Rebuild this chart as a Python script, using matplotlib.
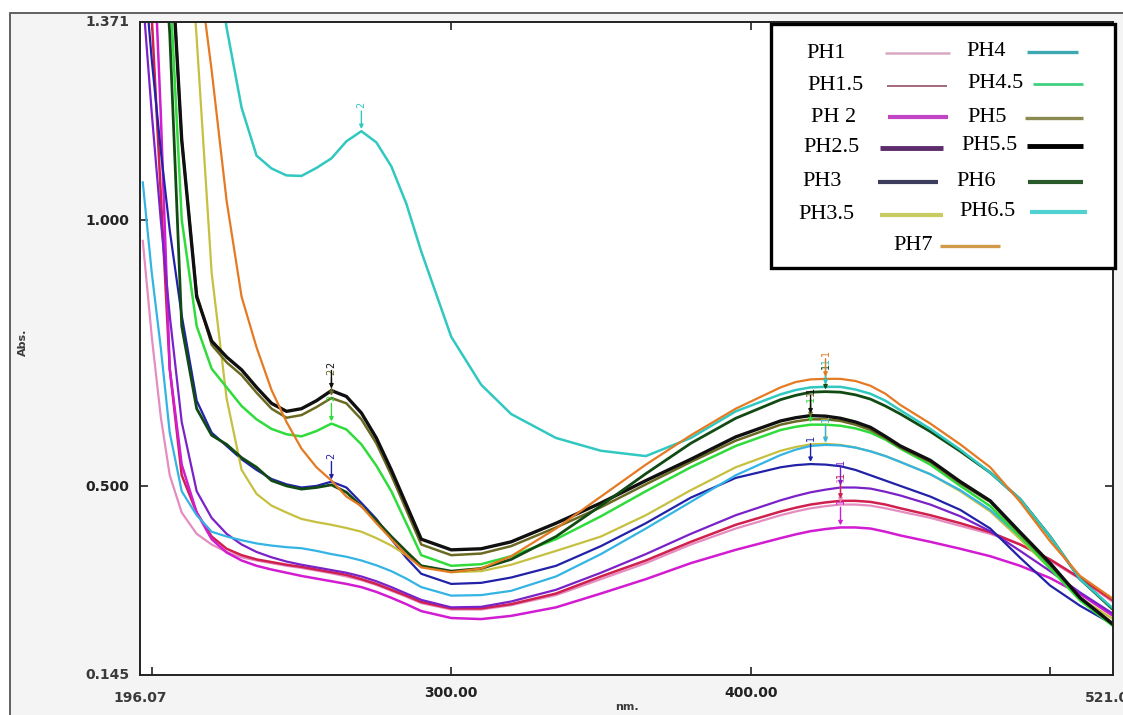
import numpy as np
import matplotlib.pyplot as plt
from matplotlib.lines import Line2D
from matplotlib.patches import Rectangle

W, H = 1123, 715

# ---------------- spectra (Abs. vs nm) ----------------
wavelength = [197, 200, 203, 206, 210, 215, 220, 225, 230, 235,
              240, 245, 250, 255, 260, 265, 270, 275, 280, 285,
              290, 300, 310, 320, 335, 350, 365, 380, 395, 410,
              415, 420, 425, 430, 435, 440, 445, 450, 460, 470,
              480, 490, 500, 510, 521]

ph1 = [0.96, 0.78, 0.63, 0.52, 0.45, 0.41, 0.39, 0.376, 0.366, 0.36,
       0.355, 0.35, 0.346, 0.341, 0.336, 0.33, 0.323, 0.314, 0.303, 0.292,
       0.28, 0.268, 0.268, 0.276, 0.295, 0.325, 0.355, 0.39, 0.42, 0.445,
       0.452, 0.458, 0.462, 0.465, 0.465, 0.463, 0.458, 0.452, 0.44, 0.425,
       0.41, 0.39, 0.36, 0.325, 0.282]
ph1_5 = [1.9, 1.38, 1.05, 0.72, 0.52, 0.45, 0.405, 0.382, 0.37, 0.362,
         0.357, 0.352, 0.348, 0.343, 0.338, 0.333, 0.325, 0.316, 0.305, 0.294,
         0.282, 0.27, 0.27, 0.278, 0.298, 0.33, 0.36, 0.395, 0.427, 0.452,
         0.459, 0.465, 0.469, 0.472, 0.472, 0.47, 0.465, 0.458, 0.445, 0.43,
         0.413, 0.39, 0.362, 0.327, 0.285]
ph2 = [2.0, 1.6, 1.2, 0.72, 0.54, 0.45, 0.40, 0.375, 0.36, 0.35,
       0.343, 0.337, 0.331, 0.326, 0.321, 0.316, 0.31, 0.301, 0.29, 0.278,
       0.265, 0.252, 0.25, 0.256, 0.272, 0.298, 0.325, 0.355, 0.38, 0.402,
       0.409, 0.415, 0.419, 0.422, 0.422, 0.42, 0.414, 0.407, 0.395, 0.382,
       0.368, 0.35, 0.327, 0.297, 0.256]
ph2_5 = [1.42, 1.2, 1.0, 0.82, 0.62, 0.49, 0.44, 0.41, 0.39, 0.376,
         0.366, 0.358, 0.352, 0.347, 0.342, 0.337, 0.33, 0.321, 0.31, 0.298,
         0.286, 0.272, 0.273, 0.283, 0.305, 0.337, 0.372, 0.41, 0.445, 0.473,
         0.481, 0.488, 0.493, 0.497, 0.497, 0.495, 0.489, 0.482, 0.465, 0.443,
         0.415, 0.378, 0.34, 0.30, 0.26]
ph3 = [1.5, 1.3, 1.13, 0.98, 0.82, 0.66, 0.60, 0.575, 0.55, 0.53,
       0.513, 0.503, 0.497, 0.50, 0.508, 0.497, 0.468, 0.438, 0.40, 0.365,
       0.335, 0.316, 0.318, 0.328, 0.35, 0.387, 0.43, 0.478, 0.515, 0.535,
       0.539, 0.541, 0.54, 0.537, 0.53, 0.52, 0.51, 0.50, 0.48, 0.455,
       0.42, 0.365, 0.313, 0.275, 0.24]
ph3_5 = [3.5, 3.0, 2.6, 2.2, 1.75, 1.34, 0.90, 0.664, 0.53, 0.485,
         0.463, 0.45, 0.438, 0.432, 0.427, 0.421, 0.414, 0.402, 0.388, 0.37,
         0.35, 0.338, 0.34, 0.352, 0.378, 0.405, 0.445, 0.492, 0.535, 0.566,
         0.573, 0.578, 0.579, 0.577, 0.572, 0.565, 0.556, 0.545, 0.522, 0.49,
         0.452, 0.40, 0.345, 0.29, 0.25]
ph4 = [1.07, 0.90, 0.76, 0.60, 0.49, 0.445, 0.414, 0.405, 0.398, 0.392,
       0.388, 0.385, 0.383, 0.378, 0.372, 0.367, 0.36, 0.351, 0.34, 0.326,
       0.31, 0.294, 0.295, 0.303, 0.33, 0.372, 0.42, 0.47, 0.52, 0.558,
       0.568, 0.575, 0.577, 0.576, 0.572, 0.565, 0.556, 0.545, 0.522, 0.492,
       0.455, 0.405, 0.35, 0.29, 0.24]
ph4_5 = [2.3, 2.0, 1.75, 1.45, 1.0, 0.80, 0.72, 0.685, 0.65, 0.625,
         0.607, 0.597, 0.593, 0.603, 0.617, 0.606, 0.578, 0.538, 0.49, 0.43,
         0.37, 0.35, 0.353, 0.368, 0.40, 0.443, 0.49, 0.535, 0.575, 0.605,
         0.611, 0.615, 0.615, 0.613, 0.608, 0.60, 0.587, 0.57, 0.54, 0.50,
         0.462, 0.405, 0.345, 0.285, 0.237]
ph5 = [2.6, 2.2, 1.9, 1.55, 1.15, 0.86, 0.765, 0.732, 0.708, 0.675,
       0.645, 0.628, 0.633, 0.648, 0.665, 0.655, 0.625, 0.58, 0.52, 0.455,
       0.39, 0.37, 0.373, 0.387, 0.422, 0.46, 0.503, 0.545, 0.585, 0.615,
       0.621, 0.625, 0.625, 0.622, 0.615, 0.605, 0.59, 0.572, 0.545, 0.505,
       0.47, 0.41, 0.352, 0.29, 0.242]
ph5_5 = [2.6, 2.2, 1.9, 1.55, 1.15, 0.855, 0.772, 0.742, 0.718, 0.685,
         0.655, 0.64, 0.645, 0.66, 0.679, 0.668, 0.637, 0.59, 0.53, 0.465,
         0.40, 0.38, 0.382, 0.395, 0.43, 0.468, 0.51, 0.55, 0.592, 0.622,
         0.628, 0.632, 0.631, 0.627, 0.62, 0.61, 0.593, 0.575, 0.548, 0.508,
         0.472, 0.413, 0.355, 0.29, 0.24]
ph6 = [2.2, 1.9, 1.6, 1.35, 0.80, 0.645, 0.595, 0.578, 0.553, 0.535,
       0.51, 0.50, 0.494, 0.497, 0.502, 0.488, 0.462, 0.435, 0.405, 0.377,
       0.35, 0.34, 0.345, 0.362, 0.405, 0.463, 0.523, 0.58, 0.627, 0.662,
       0.67, 0.676, 0.677, 0.676, 0.671, 0.663, 0.65, 0.635, 0.602, 0.565,
       0.525, 0.475, 0.405, 0.325, 0.268]
ph6_5 = [4.0, 3.6, 3.2, 2.8, 2.3, 1.85, 1.55, 1.36, 1.21, 1.12,
         1.096, 1.083, 1.082, 1.097, 1.115, 1.147, 1.166, 1.145, 1.10, 1.03,
         0.94, 0.78, 0.69, 0.635, 0.59, 0.566, 0.556, 0.59, 0.64, 0.672,
         0.68, 0.685, 0.686, 0.686, 0.681, 0.673, 0.66, 0.642, 0.607, 0.568,
         0.525, 0.475, 0.405, 0.325, 0.27]
ph7 = [3.0, 2.7, 2.4, 2.1, 1.8, 1.5, 1.28, 1.035, 0.855, 0.76,
       0.68, 0.62, 0.57, 0.535, 0.51, 0.48, 0.462, 0.43, 0.40, 0.37,
       0.347, 0.338, 0.345, 0.368, 0.42, 0.48, 0.54, 0.595, 0.645, 0.685,
       0.695, 0.70, 0.701, 0.701, 0.697, 0.688, 0.673, 0.652, 0.617, 0.578,
       0.535, 0.47, 0.396, 0.331, 0.288]

labels = ['PH1', 'PH1.5', 'PH 2', 'PH2.5', 'PH3', 'PH3.5', 'PH4',
          'PH4.5', 'PH5', 'PH5.5', 'PH6', 'PH6.5', 'PH7']
spectra = [ph1, ph1_5, ph2, ph2_5, ph3, ph3_5, ph4, ph4_5, ph5, ph5_5, ph6, ph6_5, ph7]

# colours of the traces and of the legend swatches
trace_colors = ['#e58cc0', '#d0204e', '#d21cd2', '#7a22c8', '#2222a8', '#c6c040', '#34b4e4',
                '#30dc3c', '#6a6a22', '#101010', '#124a14', '#30c8c0', '#e57a22']
trace_widths = [1.6, 1.8, 1.8, 1.6, 1.6, 1.6, 1.6, 1.8, 1.8, 2.4, 2.0, 1.8, 1.6]
key_colors = ['#d9a8c2', '#9c5c72', '#c044c4', '#5c2c6c', '#3c3c5c', '#c8cc60', '#3ea8b0',
              '#40d080', '#8a8a52', '#000000', '#2a5a2c', '#50d2d2', '#d09a48']
key_widths = [1.8, 1.3, 3.0, 3.5, 3.0, 3.0, 2.4, 2.0, 2.4, 3.5, 3.0, 3.0, 2.4]

# peak pick windows: (lo, hi, tag)
peak_windows = [(400, 450, '1'), (255, 280, '2')]
second_peak = {'PH3', 'PH4.5', 'PH5', 'PH5.5', 'PH6.5'}

# ---------------- figure ----------------
fig = plt.figure(figsize=(W / 100, H / 100), dpi=100)
fig.patch.set_facecolor('white')


def fx(x):
    return x / W


def fy(y):
    return 1 - y / H


# grey instrument window with its frame
fig.add_artist(Rectangle((fx(10), -0.1), 1.2, fy(13) + 0.1, transform=fig.transFigure,
                         facecolor='#f4f4f4', edgecolor='#555555', lw=1.3, zorder=-5))

ax = fig.add_axes([fx(140), fy(675), fx(1113) - fx(140), fy(22) - fy(675)])
ax.set_facecolor('white')

wl = np.array(wavelength)
for name, ab, c, lw in zip(labels, spectra, trace_colors, trace_widths):
    assert len(ab) == len(wl), name
    ax.plot(wl, ab, color=c, lw=lw, solid_joinstyle='round')

# peak pick markers
for name, ab, c in zip(labels, spectra, trace_colors):
    ab = np.array(ab)
    for lo, hi, tag in peak_windows:
        if tag == '2' and name not in second_peak:
            continue
        sel = (wl >= lo) & (wl <= hi)
        i = np.argmax(np.where(sel, ab, -1))
        ax.annotate(tag, xy=(wl[i], ab[i] + 0.004), xytext=(0, 15), textcoords='offset points',
                    ha='center', va='bottom', rotation=90, fontsize=7, color=c,
                    arrowprops=dict(arrowstyle='-|>', color=c, lw=1.0, mutation_scale=6,
                                    shrinkA=0, shrinkB=0))

ax.set_xlim(196.07, 521.0)
ax.set_ylim(0.145, 1.371)

tick_font = dict(family='DejaVu Sans', weight='bold', size=10, color='#3a3a3a')
ax.set_xticks([200, 300, 400, 500])
ax.set_xticklabels(['', '300.00', '400.00', ''], **tick_font)
ax.set_yticks([0.5, 1.0])
ax.set_yticklabels(['0.500', '1.000'], **tick_font)
ax.tick_params(direction='in', length=6, width=1.2, top=True, right=True, pad=8, colors='#222222')
for s in ax.spines.values():
    s.set_linewidth(1.4)
    s.set_color('#222222')

# range end labels
ax.text(196.07, -0.025, '196.07', transform=ax.get_xaxis_transform(), ha='center', va='top', **tick_font)
ax.text(511.5, -0.025, '521.0', transform=ax.get_xaxis_transform(), ha='left', va='top', **tick_font)
ax.text(-0.011, 1.371, '1.371', transform=ax.get_yaxis_transform(), ha='right', va='center', **tick_font)
ax.text(-0.011, 0.145, '0.145', transform=ax.get_yaxis_transform(), ha='right', va='center', **tick_font)

fig.text(fx(627), fy(707), 'nm.', ha='center', va='center', family='DejaVu Sans',
         weight='bold', size=8, color='#3a3a3a')
fig.text(fx(23), fy(342), 'Abs.', ha='center', va='center', rotation=90, family='DejaVu Sans',
         weight='bold', size=8, color='#3a3a3a')

# ---------------- legend box ----------------
fig.add_artist(Rectangle((fx(771), fy(268)), fx(1115) - fx(771), fy(24) - fy(268),
                         transform=fig.transFigure, facecolor='white', edgecolor='black',
                         lw=2.4, zorder=10))

# text centre x, line start, line end, row y
key_layout = [
    (826, 885, 950, 53), (835, 887, 947, 86), (834, 888, 948, 117), (832, 880, 943, 148),
    (822, 878, 938, 182), (826, 880, 943, 215),
    (986, 1027, 1078, 52), (996, 1033, 1083, 84), (987, 1025, 1083, 118), (990, 1027, 1083, 146),
    (976, 1028, 1083, 182), (988, 1030, 1087, 212),
    (913, 940, 1000, 246),
]
for name, c, lw, (tx, l0, l1, ry) in zip(labels, key_colors, key_widths, key_layout):
    fig.text(fx(tx), fy(ry), name, ha='center', va='center', family='Liberation Serif',
             size=16, color='black', zorder=11)
    fig.add_artist(Line2D([fx(l0), fx(l1)], [fy(ry), fy(ry)], transform=fig.transFigure,
                          color=c, lw=lw, solid_capstyle='butt', zorder=11))

fig.savefig('out.png', dpi=100)
